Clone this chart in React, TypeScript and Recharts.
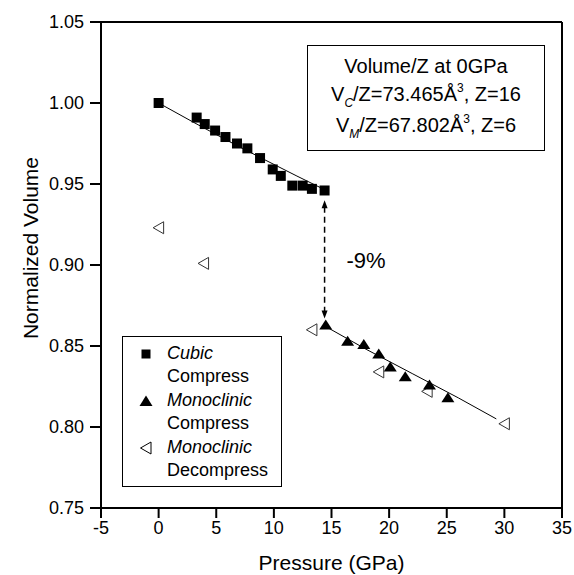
import React from 'react';
import {
  ComposedChart,
  Scatter,
  XAxis,
  YAxis,
  ReferenceLine,
  ReferenceDot,
  Legend
} from 'recharts';

const FONT = '"Liberation Sans", Arial, Helvetica, sans-serif';

// Cubic, compression (pressure GPa / normalized volume)
const cubicP = [0, 3.3, 4.0, 4.9, 5.8, 6.8, 7.7, 8.8, 9.9, 10.6, 11.6, 12.5, 13.3, 14.4];
const cubicV = [1.0, 0.991, 0.987, 0.983, 0.979, 0.975, 0.972, 0.966, 0.959, 0.955, 0.949, 0.949, 0.947, 0.946];

// Monoclinic, compression
const monoP = [14.5, 16.4, 17.8, 19.1, 20.1, 21.4, 23.5, 25.1];
const monoV = [0.863, 0.853, 0.851, 0.845, 0.837, 0.831, 0.826, 0.818];

// Monoclinic, decompression
const decompP = [0, 3.9, 13.3, 19.1, 23.3, 30.0];
const decompV = [0.923, 0.901, 0.86, 0.834, 0.822, 0.802];

// fitted EOS curves as drawn
const cubicFitP = [0, 3, 6, 9, 12, 14.4];
const cubicFitV = [1.0, 0.9882, 0.9767, 0.9657, 0.9549, 0.9465];
const monoFitP = [14.5, 18, 22, 26, 29.3];
const monoFitV = [0.862, 0.848, 0.833, 0.818, 0.805];

// volume-collapse arrow at the transition
const arrowP = 14.4;
const arrowTopV = 0.94;
const arrowBottomV = 0.867;
const dropLabel = '-9%';
const dropLabelP = 18;
const dropLabelV = 0.903;

const xTicks = [-5, 0, 5, 10, 15, 20, 25, 30, 35];
const yTicks = [0.75, 0.8, 0.85, 0.9, 0.95, 1.0, 1.05];

const pts = (p: number[], v: number[]) => p.map((x, i) => ({ p: x, v: v[i] }));

const cubic = pts(cubicP, cubicV);
const mono = pts(monoP, monoV);
const decomp = pts(decompP, decompV);
const cubicFit = pts(cubicFitP, cubicFitV);
const monoFit = pts(monoFitP, monoFitV);

const Square = ({ cx, cy }: any) => <rect x={cx - 5} y={cy - 5} width={10} height={10} fill="#000" />;

const UpTri = ({ cx, cy }: any) => (
  <polygon points={`${cx},${cy - 5.5} ${cx - 6.5},${cy + 4.5} ${cx + 6.5},${cy + 4.5}`} fill="#000" />
);

const LeftTri = ({ cx, cy }: any) => (
  <polygon
    points={`${cx - 5.5},${cy} ${cx + 5},${cy - 6} ${cx + 5},${cy + 6}`}
    fill="none"
    stroke="#333"
    strokeWidth={1}
  />
);

const NoDot = () => <g />;

const HeadUp = ({ cx, cy }: any) => (
  <polygon points={`${cx},${cy} ${cx - 3},${cy + 8} ${cx + 3},${cy + 8}`} fill="#000" />
);
const HeadDown = ({ cx, cy }: any) => (
  <polygon points={`${cx},${cy} ${cx - 3},${cy - 8} ${cx + 3},${cy - 8}`} fill="#000" />
);

const legendRows = [
  { marker: 'square', name: 'Cubic', sub: 'Compress' },
  { marker: 'tri', name: 'Monoclinic', sub: 'Compress' },
  { marker: 'open', name: 'Monoclinic', sub: 'Decompress' }
];

const LegendMarker = ({ kind }: { kind: string }) => (
  <svg width={14} height={14} style={{ position: 'absolute', left: 16, top: 5 }}>
    {kind === 'square' && <rect x={2.5} y={2.5} width={9} height={9} fill="#000" />}
    {kind === 'tri' && <polygon points="7,1.5 0.5,12 13.5,12" fill="#000" />}
    {kind === 'open' && <polygon points="1.5,7 12,1 12,13" fill="none" stroke="#000" strokeWidth={1} />}
  </svg>
);

const renderLegend = () => (
  <div
    style={{
      width: 160,
      height: 151,
      boxSizing: 'border-box',
      border: '1.5px solid #000',
      background: '#fff',
      paddingTop: 5,
      fontFamily: FONT,
      fontSize: 18,
      color: '#000',
      lineHeight: '23.4px'
    }}
  >
    {legendRows.map((r, i) => (
      <div key={i}>
        <div style={{ position: 'relative', paddingLeft: 44, fontStyle: 'italic' }}>
          <LegendMarker kind={r.marker} />
          {r.name}
        </div>
        <div style={{ paddingLeft: 44 }}>{r.sub}</div>
      </div>
    ))}
  </div>
);

const YTitle = ({ viewBox }: any) => {
  const x = viewBox.x + 9;
  const y = viewBox.y + viewBox.height / 2 - 17;
  return (
    <text
      x={x}
      y={y}
      transform={`rotate(-90 ${x} ${y})`}
      textAnchor="middle"
      dominantBaseline="central"
      fontSize={21}
      fontFamily={FONT}
      fill="#000"
    >
      Normalized Volume
    </text>
  );
};

const small = { fontSize: 12 };

export default function App() {
  return (
    <div style={{ position: 'absolute', left: 0, top: 0, width: 574, height: 575, background: '#fff' }}>
      <ComposedChart width={574} height={575} margin={{ top: 22, right: 12, bottom: 2, left: 21 }}>
        <XAxis
          type="number"
          dataKey="p"
          domain={[-5, 35]}
          ticks={xTicks}
          interval={0}
          allowDataOverflow
          height={65}
          tickSize={10}
          tickMargin={3}
          stroke="#000"
          strokeWidth={2}
          tick={{ fill: '#000', fontSize: 18, fontFamily: FONT }}
          label={{ value: 'Pressure (GPa)', position: 'insideBottom', offset: 3, fill: '#000', fontSize: 21, fontFamily: FONT }}
        />
        <YAxis
          type="number"
          dataKey="v"
          domain={[0.75, 1.05]}
          ticks={yTicks}
          interval={0}
          allowDataOverflow
          width={80}
          tickSize={11}
          tickMargin={6}
          stroke="#000"
          strokeWidth={2}
          tickFormatter={(v: number) => v.toFixed(2)}
          tick={{ fill: '#000', fontSize: 18, fontFamily: FONT }}
          label={<YTitle />}
        />

        {/* top and right frame */}
        <ReferenceLine y={1.05} stroke="#000" strokeWidth={2} />
        <ReferenceLine x={35} stroke="#000" strokeWidth={2} />

        {/* fitted curves */}
        <Scatter data={cubicFit} line={{ stroke: '#000', strokeWidth: 1 }} lineType="joint" shape={NoDot} isAnimationActive={false} />
        <Scatter data={monoFit} line={{ stroke: '#000', strokeWidth: 1 }} lineType="joint" shape={NoDot} isAnimationActive={false} />

        {/* dashed arrow for the volume drop */}
        <ReferenceLine
          segment={[{ x: arrowP, y: arrowTopV - 0.004 }, { x: arrowP, y: arrowBottomV + 0.004 }]}
          stroke="#000"
          strokeWidth={1.5}
          strokeDasharray="6 4"
        />
        <Scatter data={[{ p: arrowP, v: arrowTopV }]} shape={HeadUp} isAnimationActive={false} />
        <Scatter data={[{ p: arrowP, v: arrowBottomV }]} shape={HeadDown} isAnimationActive={false} />
        <ReferenceDot
          x={dropLabelP}
          y={dropLabelV}
          r={1}
          fill="none"
          stroke="none"
          label={{ value: dropLabel, position: 'center', fill: '#000', fontSize: 22, fontFamily: FONT }}
        />

        <Scatter name="Monoclinic Decompress" data={decomp} shape={LeftTri} isAnimationActive={false} />
        <Scatter name="Cubic Compress" data={cubic} shape={Square} isAnimationActive={false} />
        <Scatter name="Monoclinic Compress" data={mono} shape={UpTri} isAnimationActive={false} />

        <Legend
          layout="vertical"
          align="center"
          verticalAlign="middle"
          content={renderLegend}
          wrapperStyle={{ left: 122, top: 336, width: 160, height: 151 }}
        />
      </ComposedChart>

      <div
        style={{
          position: 'absolute',
          left: 307,
          top: 45,
          width: 238,
          height: 106,
          boxSizing: 'border-box',
          border: '1.5px solid #000',
          background: '#fff',
          paddingTop: 6,
          textAlign: 'center',
          fontFamily: FONT,
          fontSize: 20,
          lineHeight: '28px',
          color: '#000'
        }}
      >
        <div>Volume/Z at 0GPa</div>
        <div>
          V<span style={{ ...small, fontStyle: 'italic', position: 'relative', top: 6 }}>C</span>/Z=73.465Å
          <span style={{ ...small, position: 'relative', top: -9 }}>3</span>, Z=16
        </div>
        <div>
          V<span style={{ ...small, fontStyle: 'italic', position: 'relative', top: 6 }}>M</span>/Z=67.802Å
          <span style={{ ...small, position: 'relative', top: -9 }}>3</span>, Z=6
        </div>
      </div>
    </div>
  );
}
